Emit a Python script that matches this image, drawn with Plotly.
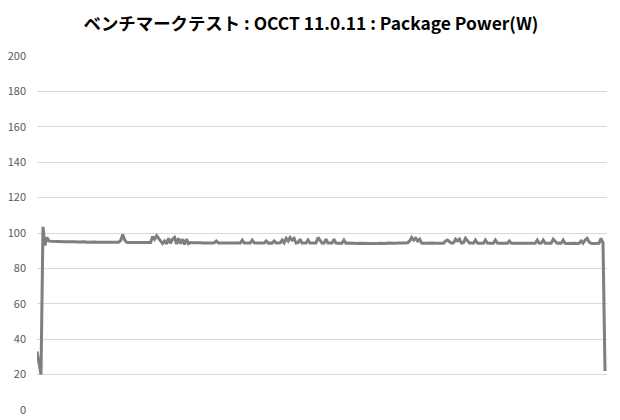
import plotly.graph_objects as go

title_text = "ベンチマークテスト : OCCT 11.0.11 : Package Power(W)"
y_ticks = [0, 20, 40, 60, 80, 100, 120, 140, 160, 180, 200]

power_w = [
    33, 25, 20, 103.5, 93, 97.5, 95.5, 95.3, 95.2, 95.2,
    95.1, 95.1, 95.0, 95.1, 95.0, 95.0, 95.1, 94.9, 95.0, 95.0,
    94.9, 95.0, 94.9, 94.9, 95.0, 94.8, 94.9, 94.9, 94.8, 94.9,
    94.8, 94.8, 94.9, 94.7, 94.8, 94.8, 94.7, 94.8, 94.7, 94.8,
    94.7, 94.8, 95.8, 99.2, 96.0, 94.7, 94.6, 94.8, 94.7, 94.6,
    94.7, 94.6, 94.8, 94.6, 94.7, 94.6, 94.7, 94.6, 98.0, 96.5,
    98.5, 97.0, 96.0, 94.0, 95.5, 93.8, 97.0, 94.2, 96.5, 97.5,
    93.8, 97.0, 94.0, 96.5, 93.5, 96.5, 94.0, 94.6, 94.5, 94.6,
    94.5, 94.4, 94.5, 94.4, 94.5, 94.4, 94.5, 94.4, 94.4, 94.5,
    95.5, 94.4, 94.4, 94.3, 94.4, 94.3, 94.4, 94.3, 94.4, 94.3,
    94.4, 94.3, 94.4, 96.0, 94.3, 94.3, 94.4, 94.3, 96.0, 94.4,
    94.3, 94.4, 94.3, 94.3, 94.3, 95.5, 94.3, 94.4, 94.3, 95.5,
    94.3, 94.3, 94.4, 96.0, 94.5, 97.0, 95.5, 97.5, 96.0, 97.0,
    94.3, 94.5, 96.5, 94.3, 94.2, 94.3, 96.0, 94.3, 94.3, 94.2,
    94.3, 97.5, 95.5, 94.3, 94.2, 96.5, 94.3, 94.2, 94.3, 96.5,
    94.3, 94.2, 94.3, 94.2, 96.0, 94.2, 94.3, 94.2, 94.2, 94.3,
    94.2, 94.1, 94.2, 94.1, 94.2, 94.0, 94.1, 94.0, 94.1, 94.0,
    94.1, 94.0, 94.2, 94.1, 94.2, 94.1, 94.3, 94.2, 94.1, 94.2,
    94.2, 94.3, 94.2, 94.3, 94.2, 94.3, 94.5, 95.5, 97.5, 96.0,
    97.0, 95.5, 96.5, 94.3, 94.2, 94.3, 94.2, 94.3, 94.2, 94.3,
    94.2, 94.3, 94.2, 94.3, 94.2, 95.5, 96.0, 95.0, 94.3, 94.4,
    96.5, 95.5, 96.5, 94.3, 94.5, 97.0, 95.5, 94.3, 94.3, 94.2,
    96.0, 94.3, 94.2, 94.3, 94.2, 96.0, 94.3, 94.2, 94.3, 94.2,
    96.0, 94.3, 94.2, 94.2, 94.3, 94.2, 94.2, 95.5, 94.2, 94.2,
    94.2, 94.1, 94.2, 94.2, 94.1, 94.2, 94.1, 94.2, 94.1, 94.2,
    94.2, 96.0, 94.2, 94.3, 96.0, 94.2, 94.2, 94.3, 94.2, 96.5,
    95.0, 94.2, 94.3, 94.2, 96.0, 94.2, 94.1, 94.2, 94.1, 94.2,
    94.2, 94.1, 94.2, 95.5, 94.3, 96.0, 97.0, 95.0, 94.2, 94.1,
    94.2, 94.1, 94.2, 97.0, 94.5, 22.0,
]
time_idx = list(range(len(power_w)))

# page body has an 8px margin, so the figure is 612x412 and offset by 8px
FIG_W, FIG_H = 612, 412

fig = go.Figure()
fig.add_trace(go.Scatter(
    x=time_idx, y=power_w, mode="lines",
    line=dict(color="#7f7f7f", width=3),
    showlegend=False, hoverinfo="skip",
))

fig.update_layout(
    width=FIG_W, height=FIG_H,
    margin=dict(l=29, r=13, t=48, b=10, autoexpand=False),
    paper_bgcolor="white", plot_bgcolor="white",
    font=dict(family="Noto Sans CJK JP", color="#595959", size=11),
    title=dict(
        text="<b>" + title_text + "</b>",
        x=303 / FIG_W, xanchor="center", xref="container",
        yref="container", y=1 - 16 / FIG_H, yanchor="middle",
        font=dict(family="Noto Sans CJK JP", size=17.4, color="#000000"),
        automargin=False,
    ),
    xaxis=dict(
        range=[0, len(power_w)], showticklabels=False, showgrid=False,
        zeroline=False, showline=False, ticks="", automargin=False,
    ),
    yaxis=dict(
        range=[0, 200], tickvals=y_ticks, showgrid=True,
        gridcolor="#d9d9d9", gridwidth=1, zeroline=False, showline=False,
        ticks="", ticklabelstandoff=10, automargin=False,
        tickfont=dict(size=11, color="#595959"),
    ),
)

fig.write_html("out.html")
